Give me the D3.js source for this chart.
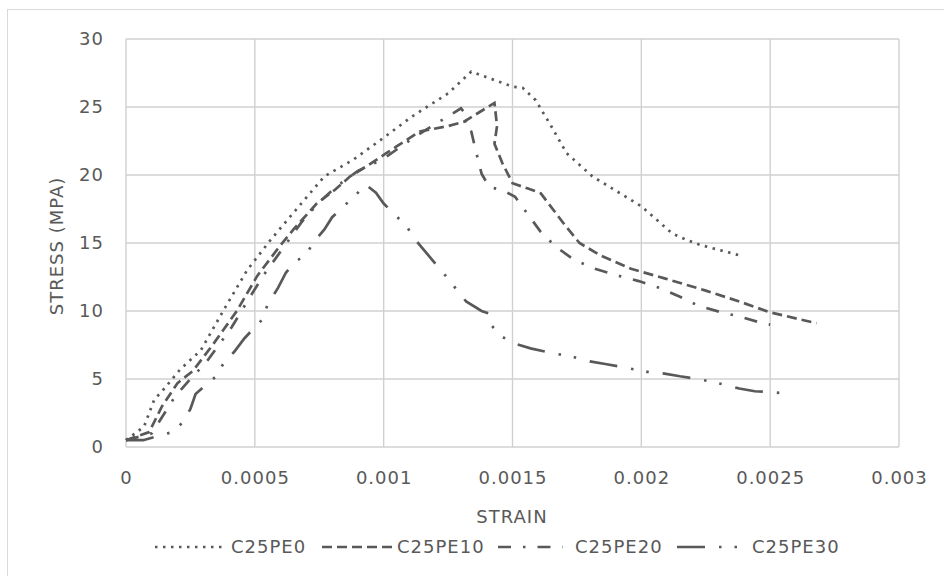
<!DOCTYPE html>
<html>
<head>
<meta charset="utf-8">
<script src="https://cdn.jsdelivr.net/npm/d3@7"></script>
<style>
  body { margin: 0; background: #fff; }
  text { font-family: "DejaVu Sans", sans-serif; fill: #595959; font-size: 18px; letter-spacing: 1px; }
</style>
</head>
<body>
<svg id="chart"></svg>
<script>
// strain / stress readings, one array per specimen
const pe0 = [[0,0.5],[0.00007,1.5],[0.00011,3.5],[0.00014,4.1],[0.00021,5.7],[0.00029,7.1],[0.00038,10.1],[0.00047,13.0],[0.00056,15.2],[0.00068,17.9],[0.00077,19.9],[0.00088,21.1],[0.00099,22.6],[0.00111,24.3],[0.00125,26.0],[0.00134,27.6],[0.0015,26.5],[0.00154,26.4],[0.00159,25.5],[0.00165,23.6],[0.00171,21.6],[0.00181,19.9],[0.002,17.7],[0.00212,15.7],[0.00218,15.2],[0.00223,14.85],[0.00238,14.1]]
const pe10 = [[0,0.5],[0.00009,1.1],[0.00014,3.0],[0.0002,4.7],[0.00026,5.6],[0.00034,7.6],[0.00043,10.0],[0.00051,12.6],[0.00059,14.6],[0.00065,16.0],[0.00074,17.9],[0.00081,18.9],[0.00087,19.9],[0.00093,20.6],[0.00101,21.6],[0.00105,22.1],[0.00114,23.2],[0.00125,23.6],[0.00131,23.9],[0.00143,25.3],[0.00144,23.6],[0.00143,22.3],[0.00146,20.9],[0.0015,19.4],[0.00156,19.0],[0.00159,18.8],[0.00161,18.65],[0.0017,16.4],[0.00176,15.0],[0.00184,14.1],[0.00196,13.1],[0.00209,12.4],[0.00225,11.5],[0.00238,10.7],[0.0025,9.9],[0.00268,9.1]]
const pe20 = [[0,0.5],[0.0001,1.0],[0.00015,2.5],[0.00019,3.7],[0.00025,5.0],[0.00031,6.2],[0.00041,8.8],[0.00048,11.0],[0.00054,12.8],[0.00062,14.9],[0.00068,16.5],[0.00075,18.0],[0.00082,19.2],[0.0009,20.3],[0.001,21.2],[0.00112,22.8],[0.00124,24.2],[0.0013,24.9],[0.00133,24.2],[0.00131,23.8],[0.00134,23.2],[0.00136,21.6],[0.00138,20.1],[0.00141,19.1],[0.00146,18.9],[0.00151,18.4],[0.00156,17.1],[0.00161,15.8],[0.00167,14.7],[0.00174,13.75],[0.00182,13.1],[0.00191,12.6],[0.00199,12.2],[0.00207,11.7],[0.00215,11.05],[0.00222,10.4],[0.00231,9.9],[0.00238,9.6],[0.00247,9.1],[0.0025,9.0]]
const pe30 = [[0,0.5],[0.000067,0.5],[0.00018,1.1],[0.00022,1.8],[0.00025,2.8],[0.00027,3.9],[0.00035,5.2],[0.00038,6.2],[0.00042,7.0],[0.00046,8.0],[0.00053,9.4],[0.00055,10.5],[0.00059,11.7],[0.00062,12.8],[0.00065,13.5],[0.0007,14.2],[0.00073,15.1],[0.00077,16.0],[0.0008,16.9],[0.00089,18.5],[0.00093,19.3],[0.00097,18.7],[0.001,17.9],[0.00109,16.2],[0.00112,15.3],[0.00116,14.4],[0.00124,12.6],[0.00132,10.7],[0.00138,10.0],[0.00141,9.8],[0.00142,8.9],[0.00146,8.1],[0.00151,7.6],[0.00157,7.25],[0.00163,7.0],[0.00174,6.6],[0.0018,6.3],[0.00186,6.1],[0.00192,5.9],[0.00203,5.5],[0.00209,5.4],[0.00215,5.2],[0.00222,5.0],[0.00232,4.6],[0.00238,4.3],[0.00244,4.1],[0.0025,4.05],[0.00258,3.9]]

const seriesNames = ['C25PE0', 'C25PE10', 'C25PE20', 'C25PE30']
const seriesData = [pe0, pe10, pe20, pe30]
const dashes = ['2.5,5.5', '10,5', '13,12,2.5,12', '28,14,2.5,13,2.5,14']

const xTicks = [0, 0.0005, 0.001, 0.0015, 0.002, 0.0025, 0.003]
const yTicks = [0, 5, 10, 15, 20, 25, 30]

const W = 944, H = 576
const margin = { top: 39, right: 45, bottom: 129, left: 126 }
const width = W - margin.left - margin.right
const height = H - margin.top - margin.bottom
const lineColor = '#595959'

const svg = d3.select('#chart')
    .attr('width', W)
    .attr('height', H)

svg.append('rect')
    .attr('x', 7.5).attr('y', 9.5)
    .attr('width', 1000).attr('height', 1000)
    .attr('fill', 'none')
    .attr('stroke', '#d9d9d9')

const chart = svg.append('g')
    .attr('transform', `translate(${margin.left},${margin.top})`)

const xScale = d3.scaleLinear().domain([0, 0.003]).range([0, width])
const yScale = d3.scaleLinear().domain([0, 30]).range([height, 0])

// grid
chart.append('g')
    .selectAll('line')
    .data(xTicks)
    .join('line')
    .attr('x1', d => xScale(d)).attr('x2', d => xScale(d))
    .attr('y1', 0).attr('y2', height)
    .attr('stroke', '#d0d0d0')
    .attr('stroke-width', 1.4)

chart.append('g')
    .selectAll('line')
    .data(yTicks)
    .join('line')
    .attr('x1', 0).attr('x2', width)
    .attr('y1', d => yScale(d)).attr('y2', d => yScale(d))
    .attr('stroke', '#d0d0d0')
    .attr('stroke-width', 1.4)

const xAxis = d3.axisBottom(xScale).tickValues(xTicks).tickSize(0).tickPadding(24)
    .tickFormat(d => d === 0 ? '0' : String(+d.toFixed(4)))
const yAxis = d3.axisLeft(yScale).tickValues(yTicks).tickSize(0).tickPadding(22)

chart.append('g')
    .attr('transform', `translate(0,${height})`)
    .call(xAxis)
chart.append('g').call(yAxis)

chart.selectAll('.domain').remove()

const line = d3.line()
    .x(d => xScale(d[0]))
    .y(d => yScale(d[1]))

chart.append('g')
    .selectAll('path')
    .data(seriesData)
    .join('path')
    .attr('d', line)
    .attr('fill', 'none')
    .attr('stroke', lineColor)
    .attr('stroke-width', 2.7)
    .attr('stroke-dasharray', (d, i) => dashes[i])

// axis titles
svg.append('text')
    .attr('transform', `translate(63,246) rotate(-90)`)
    .attr('text-anchor', 'middle')
    .text('STRESS (MPA)')

svg.append('text')
    .attr('x', 512)
    .attr('y', 523)
    .attr('text-anchor', 'middle')
    .text('STRAIN')

// legend
const legendItems = [
    { x: 155, w: 71, tx: 231 },
    { x: 322, w: 72, tx: 397 },
    { x: 498, w: 65, tx: 575 },
    { x: 677, w: 67, tx: 752 }
]
const legend = svg.append('g')
legendItems.forEach((it, i) => {
    legend.append('line')
        .attr('x1', it.x).attr('x2', it.x + it.w)
        .attr('y1', 547).attr('y2', 547)
        .attr('stroke', lineColor)
        .attr('stroke-width', 2.7)
        .attr('stroke-dasharray', dashes[i])
    legend.append('text')
        .attr('x', it.tx)
        .attr('y', 553)
        .text(seriesNames[i])
})
</script>
</body>
</html>
